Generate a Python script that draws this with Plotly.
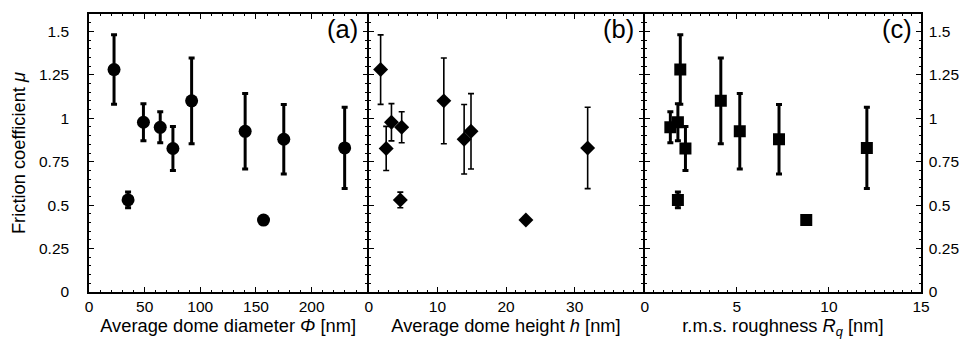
import plotly.graph_objects as go

# Sample data (one entry per sample)
mu = [1.28, 0.53, 0.977, 0.948, 0.826, 1.10, 0.925, 0.414, 0.879, 0.829]
mu_err = [0.2, 0.045, 0.107, 0.089, 0.127, 0.247, 0.217, 0.0, 0.2, 0.234]
diameter_phi = [22.5, 35.1, 48.9, 64.0, 75.4, 92.2, 140.3, 156.8, 175.0, 229.7]
height_h = [1.73, 4.6, 3.31, 4.8, 2.54, 10.94, 14.9, 22.9, 13.9, 31.9]
roughness_rq = [1.93, 1.8, 1.8, 1.39, 2.21, 4.13, 5.16, 8.77, 7.29, 12.06]

y_ticks = [0, 0.25, 0.5, 0.75, 1, 1.25, 1.5]
y_tick_text = ["0", "0.25", "0.5", "0.75", "1", "1.25", "1.5"]
xa_ticks = [0, 50, 100, 150, 200]
xb_ticks = [0, 10, 20, 30]
xc_ticks = [0, 5, 10, 15]
panel_labels = ["(a)", "(b)", "(c)"]

FONT = "Liberation Sans, Arial, sans-serif"

fig = go.Figure()

fig.add_trace(go.Scatter(
    x=diameter_phi, y=mu, mode="markers",
    marker=dict(symbol="circle", size=13, color="black"),
    error_y=dict(type="data", array=mu_err, visible=True, color="black", thickness=3, width=3),
    xaxis="x", yaxis="y", showlegend=False))
fig.add_trace(go.Scatter(
    x=height_h, y=mu, mode="markers",
    marker=dict(symbol="diamond", size=11.5, color="black"),
    error_y=dict(type="data", array=mu_err, visible=True, color="black", thickness=1.6, width=3),
    xaxis="x2", yaxis="y2", showlegend=False))
fig.add_trace(go.Scatter(
    x=roughness_rq, y=mu, mode="markers",
    marker=dict(symbol="square", size=12, color="black"),
    error_y=dict(type="data", array=mu_err, visible=True, color="black", thickness=3, width=3),
    xaxis="x3", yaxis="y3", showlegend=False))

# page body has an 8px default margin: compensate so the figure lands where the reference is
OFF = 8
W, H = 971 - OFF, 343 - OFF
L, R = 89 - OFF, 921 - OFF
T, B = 14 - OFF, 292 - OFF
LW = 1.5
plot_w = R - L
gap = LW / plot_w
a_end = (368 - 89 - LW / 2) / plot_w
b_end = (644 - 89 - LW / 2) / plot_w
doms = [[0, a_end], [a_end + gap, b_end], [b_end + gap, 1.0]]

def xaxis(dom, rng, ticks, minor_dtick, title):
    return dict(
        domain=dom, range=rng, tickvals=ticks,
        ticktext=[str(t) for t in ticks],
        showline=True, linecolor="black", linewidth=LW, mirror="ticks",
        ticks="inside", ticklen=5, tickwidth=1, tickcolor="black",
        minor=dict(dtick=minor_dtick, ticks="inside", ticklen=2.5, tickwidth=1, tickcolor="black"),
        showgrid=False, zeroline=False, automargin=False,
        tickfont=dict(family=FONT, size=15.5, color="black"),
        title=dict(text=title, font=dict(family=FONT, size=18.3, color="black"), standoff=5),
    )

def yaxis(anchor, side, show_labels, standoff):
    return dict(
        anchor=anchor, side=side, range=[0, 1.6],
        tickvals=y_ticks, ticktext=y_tick_text, showticklabels=show_labels,
        showline=True, linecolor="black", linewidth=LW, mirror="ticks",
        ticks="inside", ticklen=5, tickwidth=1, tickcolor="black",
        minor=dict(dtick=0.05, ticks="inside", ticklen=2.5, tickwidth=1, tickcolor="black"),
        showgrid=False, zeroline=False, automargin=False,
        tickfont=dict(family=FONT, size=15.5, color="black"),
        ticklabelstandoff=standoff,
    )

fig.update_layout(
    width=W, height=H,
    margin=dict(l=L, r=W - R, t=T, b=H - B),
    plot_bgcolor="white", paper_bgcolor="white",
    xaxis=xaxis(doms[0], [0, 250], xa_ticks, 10, "Average dome diameter <i>Φ</i> [nm]"),
    xaxis2=xaxis(doms[1], [0, 40], xb_ticks, 10 / 7, "Average dome height <i>h</i> [nm]"),
    xaxis3=xaxis(doms[2], [0, 15], xc_ticks, 0.5, "r.m.s. roughness <i>R</i><sub><i>q</i></sub> [nm]"),
    yaxis=yaxis("x", "left", True, 15),
    yaxis2=yaxis("x2", "left", False, 0),
    yaxis3=yaxis("x3", "right", True, 3),
)
fig.layout.xaxis2.anchor = "y2"
fig.layout.xaxis3.anchor = "y3"
fig.layout.yaxis.title = dict(text="Friction coefficient <i>μ</i>",
                              font=dict(family=FONT, size=18.3, color="black"), standoff=11)

for i, lab in enumerate(panel_labels):
    sfx = "" if i == 0 else str(i + 1)
    fig.add_annotation(text=lab, xref=f"x{sfx} domain", yref=f"y{sfx} domain",
                       x=0.975, y=0.945, xanchor="right", yanchor="middle",
                       showarrow=False, font=dict(family=FONT, size=25.5, color="black"))

fig.write_html("out.html")
